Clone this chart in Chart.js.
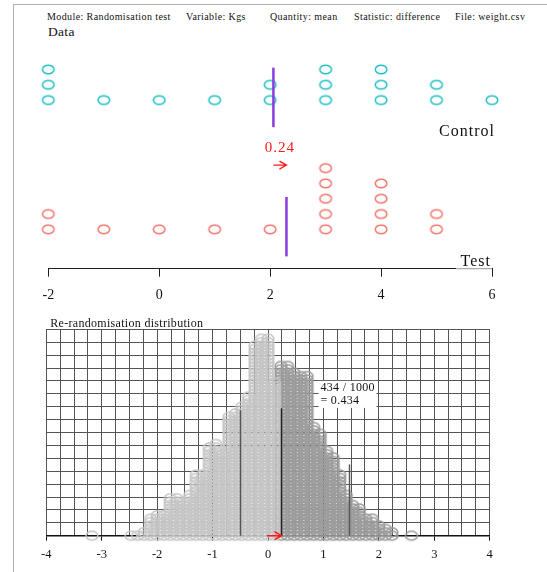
<!DOCTYPE html>
<html>
<head>
<meta charset="utf-8">
<script src="https://cdn.jsdelivr.net/npm/chart.js@4.4.1/dist/chart.umd.min.js"></script>
<style>
  body { margin: 0; background: #fff; width: 547px; height: 572px; overflow: hidden; position: relative;
         font-family: "Liberation Serif", serif; color: #111; }
  #frame { position: absolute; left: 13px; top: 4px; width: 560px; height: 600px;
           border-left: 1.5px solid #b0b0b0; border-top: 1.5px solid #b0b0b0; }
  .hdr { position: absolute; top: 11px; font-size: 10px; line-height: 12px; letter-spacing: 0.4px; white-space: nowrap; }
  #dataTitle { position: absolute; left: 48px; top: 24px; font-size: 13.5px; line-height: 16px; letter-spacing: 0.3px; }
  #topChart { position: absolute; left: 0; top: 40px; }
  #distChart { position: absolute; left: 0; top: 310px; }
</style>
</head>
<body>
<div id="frame"></div>
<div class="hdr" style="left:47px">Module: Randomisation test</div>
<div class="hdr" style="left:186px">Variable: Kgs</div>
<div class="hdr" style="left:270px">Quantity: mean</div>
<div class="hdr" style="left:354px">Statistic: difference</div>
<div class="hdr" style="left:455px">File: weight.csv</div>
<div id="dataTitle">Data</div>
<canvas id="topChart" width="547" height="270"></canvas>
<canvas id="distChart" width="547" height="262"></canvas>

<script>
// raw data, Kgs
const controlValues = [-2, -2, -2, -1, 0, 1, 2, 2, 3, 3, 3, 4, 4, 4, 5, 5, 6];
const testValues = [-2, -2, -1, 0, 1, 2, 3, 3, 3, 3, 3, 4, 4, 4, 4, 5, 5];

// 1000 re-randomised differences: value = n / 17, with how many landed there
const diffSeventeenths = [-54, -42, -40, -38, -36, -34, -32, -30, -28, -26, -24, -22, -20, -18, -16, -14,
  -12, -10, -8, -6, -4, -2, 0, 2, 4, 6, 8, 10, 12, 14, 16, 18, 20, 22, 24, 26, 28, 30, 32, 34, 36, 38, 44];
const diffCounts = [1, 1, 1, 2, 6, 7, 7, 12, 12, 11, 13, 19, 19, 27, 28, 25, 36, 37, 39, 42, 57, 59, 59, 46,
  51, 51, 49, 48, 48, 33, 31, 26, 24, 19, 13, 10, 9, 6, 6, 4, 3, 2, 1];

// the dark vertical marks on the distribution and how high they reach (in dots)
const markValues = [-0.5, 1.47];
const markHeights = [37, 21];

const topTicks = [-2, 0, 2, 4, 6];
const distTicks = [-4, -3, -2, -1, 0, 1, 2, 3, 4];

const SERIF = '"Liberation Serif", serif';
const CONTROL_BASE = 8.45;   // control dots sit above the test dots

function mean(a) { return a.reduce((s, v) => s + v, 0) / a.length; }
const ctlMean = mean(controlValues);
const tstMean = mean(testValues);
const observed = tstMean - ctlMean;

function stackDots(vals, base) {
  const seen = {};
  return vals.map(v => {
    const k = seen[v] || 0;
    seen[v] = k + 1;
    return { x: v, y: base + k };
  });
}

function ellipseSprite(color, rx, ry, lw) {
  const c = document.createElement('canvas');
  c.width = Math.ceil(2 * rx + lw + 2);
  c.height = Math.ceil(2 * ry + lw + 2);
  const g = c.getContext('2d');
  g.strokeStyle = color;
  g.lineWidth = lw;
  g.beginPath();
  g.ellipse(c.width / 2, c.height / 2, rx, ry, 0, 0, Math.PI * 2);
  g.stroke();
  return c;
}

function arrow(ctx, x0, x1, y) {
  ctx.beginPath();
  ctx.moveTo(x0, y); ctx.lineTo(x1, y);
  ctx.moveTo(x1 - 7, y - 4); ctx.lineTo(x1, y); ctx.lineTo(x1 - 7, y + 4);
  ctx.stroke();
}

// ---------- top: the data ----------
const topMarks = {
  id: 'topMarks',
  afterDatasetsDraw(chart) {
    const { ctx, scales: { x, y } } = chart;
    ctx.save();
    ctx.strokeStyle = '#8a3be0';
    ctx.lineWidth = 2.5;
    [[ctlMean, CONTROL_BASE], [tstMean, 0]].forEach(([m, base]) => {
      const px = x.getPixelForValue(m);
      ctx.beginPath();
      ctx.moveTo(px, y.getPixelForValue(base + 2.12));
      ctx.lineTo(px, y.getPixelForValue(base - 1.77));
      ctx.stroke();
    });

    const x0 = x.getPixelForValue(ctlMean), x1 = x.getPixelForValue(tstMean);
    ctx.strokeStyle = '#ff1a1a';
    ctx.lineWidth = 1.3;
    arrow(ctx, x0, x1, y.getPixelForValue(4.2));
    ctx.fillStyle = '#ff1a1a';
    ctx.font = '15px ' + SERIF;
    ctx.letterSpacing = '1px';
    ctx.textAlign = 'center';
    ctx.textBaseline = 'middle';
    ctx.fillText(observed.toFixed(2), (x0 + x1) / 2, y.getPixelForValue(5.33));

    // group labels
    ctx.fillStyle = '#111';
    ctx.font = '16px ' + SERIF;
    ctx.textAlign = 'right';
    ctx.fillText('Control', x.right + 3, y.getPixelForValue(6.38));
    const axisY = chart.chartArea.bottom;
    ctx.strokeStyle = '#fff';
    ctx.lineWidth = 2.5;
    ctx.beginPath(); ctx.moveTo(456, axisY); ctx.lineTo(x.right - 1, axisY); ctx.stroke();
    ctx.strokeStyle = '#aaa';
    ctx.lineWidth = 1.2;
    ctx.beginPath(); ctx.moveTo(456, axisY); ctx.lineTo(x.right, axisY); ctx.stroke();
    ctx.fillText('Test', x.right - 1, y.getPixelForValue(-2.14));
    ctx.restore();
  }
};

new Chart(document.getElementById('topChart'), {
  type: 'scatter',
  data: {
    datasets: [
      { label: 'Control', data: stackDots(controlValues, CONTROL_BASE),
        pointStyle: ellipseSprite('#1fc0c8', 5.8, 4.3, 1.5), clip: false },
      { label: 'Test', data: stackDots(testValues, 0),
        pointStyle: ellipseSprite('#f2756d', 5.8, 4.3, 1.5), clip: false }
    ]
  },
  options: {
    responsive: false,
    animation: false,
    layout: { padding: { left: 48.3, right: 55, top: 20, bottom: 0 } },
    plugins: { legend: { display: false }, tooltip: { enabled: false } },
    scales: {
      x: {
        type: 'linear', min: topTicks[0], max: topTicks[topTicks.length - 1],
        afterBuildTicks: s => { s.ticks = topTicks.map(v => ({ value: v })); },
        afterFit: s => { s.height = 41.3; },
        ticks: { color: '#111', font: { family: SERIF, size: 14 }, padding: 10 },
        grid: { drawOnChartArea: false, tickLength: 8, color: '#222', lineWidth: 1 },
        border: { color: '#222', width: 1 }
      },
      y: { display: false, min: -2.575, max: 11.07 }
    }
  },
  plugins: [topMarks]
});

// ---------- bottom: re-randomisation distribution ----------
const lightDots = [], darkDots = [];
let darkTotal = 0, total = 0;
diffSeventeenths.forEach((n, i) => {
  const v = n / 17;
  const isDark = v >= observed - 1e-9;
  for (let k = 0; k < diffCounts[i]; k++) (isDark ? darkDots : lightDots).push({ x: v, y: k });
  total += diffCounts[i];
  if (isDark) darkTotal += diffCounts[i];
});

const distMarks = {
  id: 'distMarks',
  afterDatasetsDraw(chart) {
    const { ctx, scales: { x, y } } = chart;
    ctx.save();
    ctx.lineWidth = 1.5;
    ctx.strokeStyle = '#555';
    markValues.forEach((v, i) => {
      const px = Math.round(x.getPixelForValue(v)) + 0.5;
      ctx.beginPath(); ctx.moveTo(px, y.getPixelForValue(0)); ctx.lineTo(px, y.getPixelForValue(markHeights[i])); ctx.stroke();
    });
    const ox = Math.round(x.getPixelForValue(observed)) + 0.5;
    ctx.strokeStyle = '#222';
    ctx.beginPath(); ctx.moveTo(ox, y.getPixelForValue(0)); ctx.lineTo(ox, y.getPixelForValue(37.5)); ctx.stroke();

    ctx.strokeStyle = '#ff1a1a';
    ctx.lineWidth = 1.5;
    arrow(ctx, x.getPixelForValue(0) - 1, ox, y.getPixelForValue(0));

    // tail proportion box
    const bx = ox + 37, by = y.getPixelForValue(45.6);
    ctx.fillStyle = '#fff';
    ctx.fillRect(bx, by, 58, 27);
    ctx.fillStyle = '#111';
    ctx.font = '12px ' + SERIF;
    ctx.letterSpacing = '0.3px';
    ctx.textAlign = 'left';
    ctx.textBaseline = 'middle';
    ctx.fillText(darkTotal + ' / ' + total, bx + 2, by + 7);
    ctx.fillText('= ' + (darkTotal / total).toFixed(3), bx + 2, by + 20);

    ctx.font = '12px ' + SERIF;
    ctx.fillText('Re-randomisation distribution', chart.chartArea.left + 4, 14);
    ctx.restore();
  }
};

new Chart(document.getElementById('distChart'), {
  type: 'scatter',
  data: {
    datasets: [
      { label: 'below', data: lightDots, pointStyle: ellipseSprite('#c6c6c6', 5.9, 4.4, 1.5), clip: false },
      { label: 'tail', data: darkDots, pointStyle: ellipseSprite('#9c9c9c', 5.9, 4.4, 1.5), clip: false }
    ]
  },
  options: {
    responsive: false,
    animation: false,
    layout: { padding: { left: 46.3, right: 57.3, top: 19.3, bottom: 0 } },
    plugins: { legend: { display: false }, tooltip: { enabled: false } },
    scales: {
      x: {
        type: 'linear', min: distTicks[0], max: distTicks[distTicks.length - 1],
        ticks: { stepSize: 0.25, autoSkip: false, maxRotation: 0,
                 callback: v => (Number.isInteger(v) ? v : ''),
                 color: '#111', font: { family: SERIF, size: 12.5 }, padding: 7 },
        afterFit: s => { s.height = 36.3; },
        grid: { color: '#555', lineWidth: 1, tickLength: 5,
                tickColor: c => (Number.isInteger(c.tick && c.tick.value) ? '#111' : 'rgba(0,0,0,0)') },
        border: { color: '#111', width: 1.5 }
      },
      y: {
        type: 'linear', min: 0, max: 60.8,
        ticks: { stepSize: 3.8, display: false },
        afterFit: s => { s.width = 0; },
        grid: { color: '#555', lineWidth: 1, drawTicks: false },
        border: { display: false }
      }
    }
  },
  plugins: [distMarks]
});
</script>
</body>
</html>
